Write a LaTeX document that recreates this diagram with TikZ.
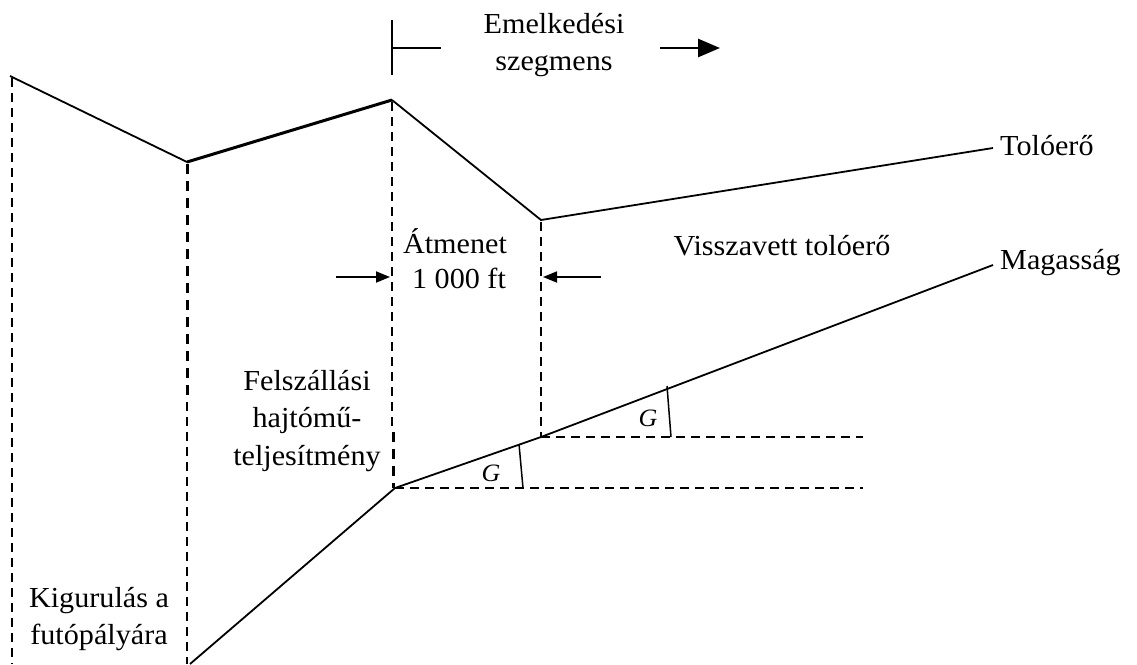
\documentclass[tikz,border=0pt]{standalone}
\usepackage{fontspec}
\setmainfont{Liberation Serif}[FakeStretch=1.04]
\usetikzlibrary{arrows.meta}
\begin{document}
\begin{tikzpicture}[x=1pt,y=-1pt,
  lbl/.style={inner sep=0pt,align=center,font=\fontsize{29}{37.5}\selectfont},
  thin dash/.style={line width=1.3pt,dash pattern=on 9pt off 6pt},
  thick dash/.style={line width=3pt,dash pattern=on 10pt off 7pt},
  curve/.style={line width=1.8pt},
  arr/.style={line width=1.8pt,-{Triangle[length=14pt,width=11pt]}}]
\useasboundingbox (0,0) rectangle (1137,664);
% points
\coordinate (t0) at (10,76);
\coordinate (t1) at (187,162);
\coordinate (t2) at (392,100);
\coordinate (t3) at (541,220);
\coordinate (t4) at (993,148);
\coordinate (a0) at (190,664);
\coordinate (a1) at (395,488);
\coordinate (a2) at (541,437);
\coordinate (a3) at (993,265);
% thrust curve
\draw[curve] (t0) -- (t1);
\draw[line width=3pt] (t1) -- (t2);
\draw[curve] (t2) -- (t3) -- (t4);
% altitude curve
\draw[curve] (a0) -- (a1) -- (a2) -- (a3);
% vertical dashed lines
\draw[thin dash] (12,78) -- (12,664);
\draw[thick dash] (187,164) -- (187,400);
\draw[thin dash] (187,402) -- (187,664);
\draw[thin dash] (392,102) -- (392,430);
\draw[thick dash] (393,432) -- (393,488);
\draw[thin dash] (541,222) -- (541,437);
% horizontal dashed
\draw[thin dash] (a1) -- (863,488);
\draw[thin dash] (a2) -- (863,437);
% angle ticks
\coordinate (g1a) at (519,444);
\coordinate (g1b) at (523,488);
\coordinate (g2a) at (667,386);
\coordinate (g2b) at (671,437);
\draw[line width=1.5pt] (g1a) -- (g1b);
\draw[line width=1.5pt] (g2a) -- (g2b);
\node[lbl,font=\fontsize{25}{28}\selectfont\itshape] (G1) at (491,473) {G};
\node[lbl,font=\fontsize{25}{28}\selectfont\itshape] (G2) at (648,418) {G};
% segment marker
\coordinate (m0) at (392,20);
\coordinate (m1) at (392,75);
\coordinate (m2) at (392,48);
\coordinate (m3) at (441,48);
\draw[line width=1.4pt] (m0) -- (m1);
\draw[line width=2.6pt] (m2) -- (m3);
\coordinate (s0) at (660,48);
\coordinate (s1) at (720,48);
\draw[line width=2.6pt,-{Triangle[length=22pt,width=18pt]}] (s0) -- (s1);
% 1000 ft arrows
\coordinate (l0) at (336,277);
\coordinate (l1) at (390,277);
\coordinate (r0) at (601,277);
\coordinate (r1) at (543,277);
\draw[arr] (l0) -- (l1);
\draw[arr] (r0) -- (r1);
% labels
\node[lbl] (emel) at (554,45) {Emelkedési\\szegmens};
\node[lbl,anchor=west] (tol) at (1000,146) {Tolóerő};
\node[lbl,anchor=west] (mag) at (1000,263) {Magasság};
\node[lbl] (atm) at (455,241) {Átmenet};
\node[lbl] (ft) at (459,278) {1 000 ft};
\node[lbl] (vissza) at (782,246) {Visszavett tolóerő};
\node[lbl] (fel) at (307,421) {Felszállási\\hajtómű-\\teljesítmény};
\node[lbl] (kig) at (99,619) {Kigurulás a\\futópályára};
\end{tikzpicture}
\end{document}
